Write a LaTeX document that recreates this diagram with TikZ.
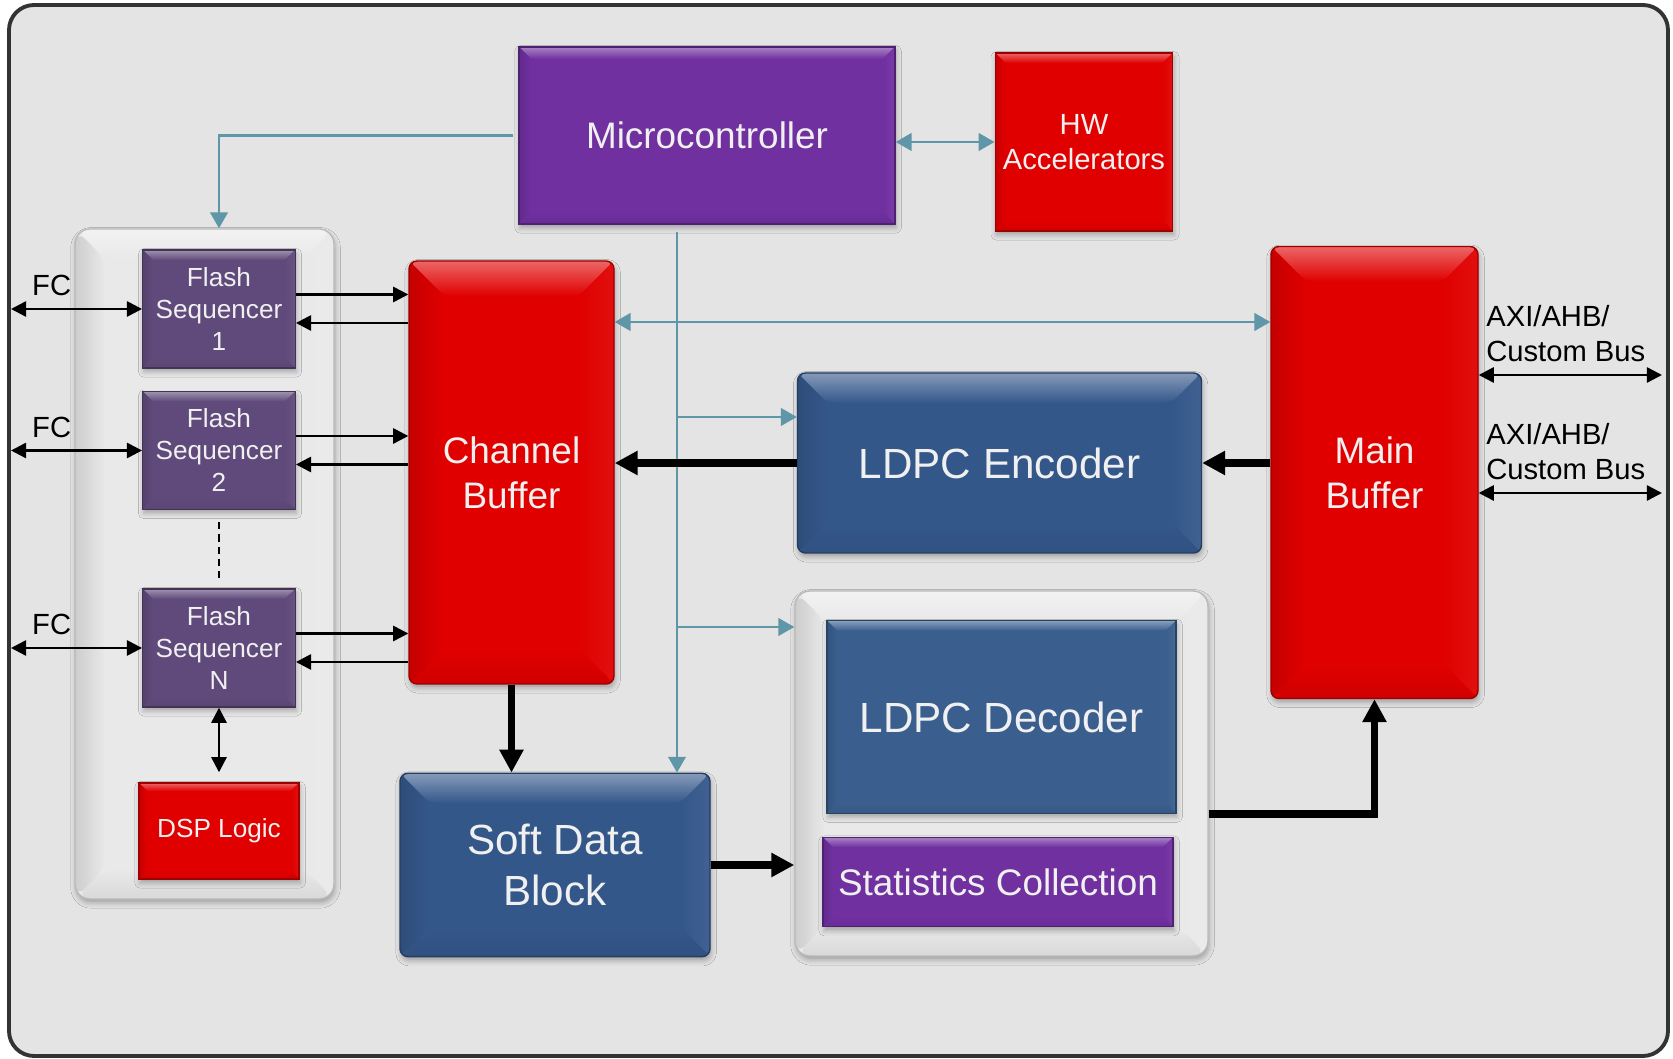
\documentclass[tikz,border=0pt]{standalone}
\usepackage{fontspec}
\setmainfont{Liberation Sans}
\usepackage{tikz}
\usetikzlibrary{arrows.meta, calc, shadows.blur}

\definecolor{bgcol}{HTML}{E4E4E4}
\definecolor{grpcol}{HTML}{E9E9E9}
\definecolor{ucpurple}{HTML}{7030A0}
\definecolor{seqpurple}{HTML}{604A7B}
\definecolor{bufred}{HTML}{E00000}
\definecolor{ldpcblue}{HTML}{34578A}
\definecolor{decblue}{HTML}{3A5F8E}
\definecolor{ctlteal}{HTML}{5F97A8}
\definecolor{boxtext}{HTML}{F0F0F0}

\newcommand{\bvw}{1mm}

\begin{document}
\begin{tikzpicture}[
  bevel/.code={\renewcommand{\bvw}{#1}},
  block/.style={rectangle, fill=#1, draw=#1!70!black, line width=0.4pt, inner sep=0pt, align=center, text=boxtext,
    blur shadow={shadow xshift=0.3pt, shadow yshift=-1.1pt, shadow blur radius=1.5pt, shadow opacity=30},
    path picture={
      \path (path picture bounding box.north west) coordinate (pnw)
            (path picture bounding box.north east) coordinate (pne)
            (path picture bounding box.south west) coordinate (psw)
            (path picture bounding box.south east) coordinate (pse);
      \shade[top color=#1!60!white, bottom color=#1]
        (pnw) -- (pne) -- ([shift={(-\bvw,-\bvw)}]pne) -- ([shift={(\bvw,-\bvw)}]pnw) -- cycle;
      \shade[left color=#1!88!black, right color=#1]
        (pnw) -- ([shift={(\bvw,-\bvw)}]pnw) -- ([shift={(\bvw,\bvw)}]psw) -- (psw) -- cycle;
      \shade[left color=#1, right color=#1!94!white]
        (pne) -- (pse) -- ([shift={(-\bvw,\bvw)}]pse) -- ([shift={(-\bvw,-\bvw)}]pne) -- cycle;
      \shade[top color=#1, bottom color=#1!93!black]
        (psw) -- ([shift={(\bvw,\bvw)}]psw) -- ([shift={(-\bvw,\bvw)}]pse) -- (pse) -- cycle;
    }},
  bigtext/.style={font=\fontsize{12}{14.4}\selectfont},
  midtext/.style={font=\fontsize{10.5}{12.8}\selectfont},
  smalltext/.style={font=\fontsize{8.3}{10.1}\selectfont},
  seqtext/.style={font=\fontsize{7.45}{9.1}\selectfont},
  link/.style={-{Triangle[length=4.3pt, width=4.3pt]}, line width=0.7pt},
  biarr/.style={{Triangle[length=4.3pt, width=4.3pt]}-{Triangle[length=4.3pt, width=4.3pt]}, line width=0.7pt},
  datapath/.style={-{Triangle[length=6.5pt, width=6.5pt]}, line width=2pt},
  ctl/.style={-{Triangle[length=4.5pt, width=5pt]}, draw=ctlteal, line width=0.6pt},
  ctlboth/.style={{Triangle[length=4.5pt, width=5pt]}-{Triangle[length=4.5pt, width=5pt]}, draw=ctlteal, line width=0.6pt},
]

\useasboundingbox (0,0) rectangle (16.73,10.59);
\draw[draw=black!80, line width=1.1pt, fill=bgcol, rounded corners=2.5mm] (0.09,0.03) rectangle (16.68,10.54);

% Groups
\node[block=grpcol, draw=gray!55, bevel=3mm, rounded corners=1.5mm, minimum width=2.59cm, minimum height=6.70cm] (fgroup) at (2.045, 4.95) {};
\node[block=grpcol, draw=gray!55, bevel=3mm, rounded corners=1.5mm, minimum width=4.13cm, minimum height=3.65cm] (dgroup) at (10.015, 2.855) {};

% Blocks
\node[block=ucpurple, bevel=1.2mm, midtext, minimum width=3.76cm, minimum height=1.77cm] (micro) at (7.07, 9.235) {Microcontroller};
\node[block=bufred, bevel=1mm, smalltext, minimum width=1.775cm, minimum height=1.78cm] (hw) at (10.84, 9.17) {HW\\Accelerators};
\node[block=seqpurple, bevel=1mm, seqtext, minimum width=1.525cm, minimum height=1.18cm] (seq1) at (2.19, 7.50) {Flash\\Sequencer\\1};
\node[block=seqpurple, bevel=1mm, seqtext, minimum width=1.525cm, minimum height=1.18cm] (seq2) at (2.19, 6.085) {Flash\\Sequencer\\2};
\node[block=seqpurple, bevel=1mm, seqtext, minimum width=1.525cm, minimum height=1.18cm] (seqN) at (2.19, 4.11) {Flash\\Sequencer\\N};
\node[block=bufred, bevel=0.8mm, seqtext, minimum width=1.60cm, minimum height=0.96cm] (dsp) at (2.19, 2.28) {DSP Logic};
\node[block=bufred, bevel=3.5mm, rounded corners=0.8mm, midtext, minimum width=2.05cm, minimum height=4.23cm] (chbuf) at (5.115, 5.865) {Channel\\Buffer};
\node[block=bufred, bevel=3.5mm, rounded corners=0.8mm, midtext, minimum width=2.07cm, minimum height=4.52cm] (mainbuf) at (13.745, 5.865) {Main\\Buffer};
\node[block=ldpcblue, bevel=3mm, rounded corners=0.8mm, bigtext, minimum width=4.04cm, minimum height=1.80cm] (enc) at (9.995, 5.96) {LDPC Encoder};
\node[block=decblue, bevel=1mm, bigtext, minimum width=3.49cm, minimum height=1.926cm] (dec) at (10.015, 3.42) {LDPC Decoder};
\node[block=ucpurple, bevel=1mm, midtext, minimum width=3.50cm, minimum height=0.894cm] (stats) at (9.98, 1.77) {Statistics Collection};
\node[block=ldpcblue, bevel=3mm, rounded corners=0.8mm, bigtext, minimum width=3.10cm, minimum height=1.834cm] (soft) at (5.55, 1.94) {Soft Data\\Block};

% Free ends and branch points
\coordinate (fcedge) at (0.11, 5);
\coordinate (bus) at (6.77, 5);
\coordinate (hbus) at (6.77, 7.37);
\coordinate (encbr) at (6.77, 6.42);
\coordinate (decbr) at (6.77, 4.32);
\coordinate (bus1) at (16.62, 6.84);
\coordinate (bus2) at (16.62, 5.66);

% Control lines
\draw[ctl, shorten <=1.5pt] (micro.west) -| (seq1 |- fgroup.north);
\draw[ctlboth] (micro.east |- hw.west) -- (hw.west);
\draw[ctl, shorten <=2pt] (micro.south -| bus) -- (soft.north -| bus);
\draw[ctlboth] (chbuf.east |- hbus) -- (mainbuf.west |- hbus);
\draw[ctl] (encbr) -- (enc.west |- encbr);
\draw[ctl] (decbr) -- (dgroup.west |- decbr);

% Flash channels
\draw[biarr] (fcedge |- seq1.west) -- node[pos=.31, above, smalltext] {FC} (seq1.west);
\draw[biarr] (fcedge |- seq2.west) -- node[pos=.31, above, smalltext] {FC} (seq2.west);
\draw[biarr] (fcedge |- seqN.west) -- node[pos=.31, above, smalltext] {FC} (seqN.west);

% Sequencers to channel buffer
\draw[link] ([yshift=1.45mm]seq1.east) -- ([yshift=1.45mm]seq1.east -| chbuf.west);
\draw[link] ([yshift=-1.4mm]seq1.east -| chbuf.west) -- ([yshift=-1.4mm]seq1.east);
\draw[link] ([yshift=1.45mm]seq2.east) -- ([yshift=1.45mm]seq2.east -| chbuf.west);
\draw[link] ([yshift=-1.4mm]seq2.east -| chbuf.west) -- ([yshift=-1.4mm]seq2.east);
\draw[link] ([yshift=1.45mm]seqN.east) -- ([yshift=1.45mm]seqN.east -| chbuf.west);
\draw[link] ([yshift=-1.4mm]seqN.east -| chbuf.west) -- ([yshift=-1.4mm]seqN.east);
\draw[dashed, dash pattern=on 2pt off 1.5pt, line width=0.5pt] ([yshift=-1.2mm]seq2.south) -- ([yshift=1mm]seqN.north);
\draw[biarr] (seqN.south) -- ([yshift=1mm]dsp.north);

% Data path
\draw[datapath] (chbuf.south) -- (chbuf.south |- soft.north);
\draw[datapath] (enc.west) -- (chbuf.east |- enc.west);
\draw[datapath] (mainbuf.west |- enc.east) -- (enc.east);
\draw[datapath] (soft.east) -- (dgroup.west |- soft.east);
\draw[datapath] (dgroup.east |- dec.south) -| (mainbuf.south);

% Host side
\draw[biarr] (mainbuf.east |- bus1) -- node[pos=0, above right, xshift=-1.5pt, smalltext, align=left] {AXI/AHB/\\Custom Bus} (bus1);
\draw[biarr] (mainbuf.east |- bus2) -- node[pos=0, above right, xshift=-1.5pt, smalltext, align=left] {AXI/AHB/\\Custom Bus} (bus2);

\end{tikzpicture}
\end{document}
